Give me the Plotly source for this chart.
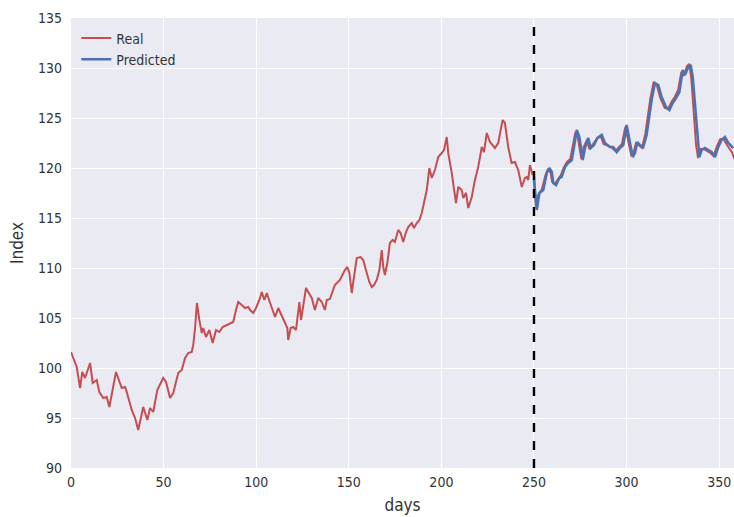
import plotly.graph_objects as go

# Real index values (days, value)
real_days = [0, 3.1, 4.9, 6.1, 7.6, 10.3, 11.7, 13.9, 15.3, 17.4, 19.3, 20.7, 24.3, 27.4, 29.2, 30.1,
             32.8, 34.6, 36.3, 39.0, 41.2, 42.7, 44.4, 46.6, 49.8, 51.3, 53.5, 55.2, 57.9, 59.8,
             61.6, 63.3, 65.2, 66.0, 67.0, 68.0, 69.3, 70.6, 71.4, 72.9, 74.7, 76.5, 78.3, 80.1,
             81.9, 84.1, 85.9, 87.6, 89.1, 90.3, 92.2, 94.0, 95.7, 96.7, 98.4, 99.9, 102.1, 103.0,
             104.4, 105.7, 107.5, 110.2, 111.9, 113.8, 115.6, 116.8, 117.3, 118.6, 120.0, 121.5,
             123.3, 124.2, 125.4, 126.9, 128.1, 130.0, 131.7, 133.5, 135.4, 137.1, 138.1, 139.8,
             142.5, 145.2, 147.9, 149.2, 150.3, 151.6, 152.8, 154.3, 156.4, 157.8, 159.7, 161.1,
             162.4, 163.6, 165.1, 166.5, 167.8, 168.6, 169.5, 170.8, 172.2, 173.7, 174.9, 176.7,
             178.0, 179.4, 180.9, 182.1, 184.0, 185.2, 186.7, 188.1, 189.4, 190.2, 191.1, 192.1,
             193.5, 194.8, 196.5, 198.3, 200.2, 201.4, 202.9, 203.7, 205.6, 207.9, 209.1, 211.0,
             211.8, 213.3, 214.5, 216.4, 218.1, 219.9, 221.8, 223.0, 224.5, 226.2, 228.9, 230.7,
             232.0, 233.1, 234.3, 236.1, 237.9, 239.7, 241.5, 243.4, 245.1, 246.1, 246.9, 247.8,
             249.3, 250.0,
             251.0, 252.3, 254.3, 256.2, 257.6, 259.0, 259.8, 261.3, 263.0, 264.3, 266.0, 267.8,
             269.6, 270.9, 272.4, 273.8, 275.6, 276.8, 278.6, 279.9, 281.7, 283.5, 285.9, 287.6,
             290.3, 292.1, 294.0, 295.7, 297.5, 299.3, 300.8, 302.6, 303.8, 305.1, 306.5, 308.3,
             310.1, 311.0, 312.8, 314.6, 316.4, 318.2, 320.6, 322.4, 324.2, 326.0, 327.8, 329.6,
             330.8, 332.6, 333.9, 335.0, 336.2, 337.5, 338.6, 339.8, 341.6, 343.4, 345.2, 347.0,
             348.8, 350.6, 352.4, 354.2, 356.8, 358.5]
real_vals = [101.6, 100.1, 98.0, 99.6, 99.0, 100.5, 98.5, 98.8, 97.6, 97.0, 97.1, 96.1, 99.6, 98.0, 98.1, 97.6,
             95.8, 95.0, 93.8, 96.1, 94.8, 96.0, 95.6, 97.8, 99.0, 98.6, 97.0, 97.5, 99.5, 99.8,
             101.0, 101.5, 101.6, 102.3, 104.0, 106.5, 104.8, 103.5, 104.0, 103.1, 103.8, 102.5, 103.8, 103.6,
             104.1, 104.3, 104.5, 104.6, 105.8, 106.6, 106.3, 106.0, 106.1, 105.8, 105.5, 106.0, 107.0, 107.6,
             106.8, 107.5, 106.5, 105.1, 106.0, 105.3, 104.5, 104.0, 102.8, 104.0, 104.1, 103.8,
             106.6, 104.8, 106.3, 108.0, 107.6, 107.0, 105.8, 107.0, 106.6, 105.8, 106.8, 106.9,
             108.3, 108.8, 109.8, 110.1, 109.5, 107.5, 109.1, 111.0, 111.1, 110.8, 109.5, 108.6,
             108.1, 108.3, 108.8, 109.8, 111.8, 110.1, 109.3, 110.5, 112.5, 112.8, 112.6, 113.8,
             113.5, 112.6, 113.6, 114.1, 114.5, 114.0, 114.5, 114.8, 115.5, 116.1, 116.8, 117.8,
             120.0, 119.0, 119.8, 121.1, 121.5, 121.8, 123.1, 121.5, 119.5, 116.5, 118.1, 117.8,
             117.0, 117.5, 116.0, 117.1, 118.8, 120.1, 122.1, 121.6, 123.5, 122.6, 122.0, 122.5,
             123.8, 124.8, 124.5, 122.1, 120.5, 120.6, 119.8, 118.1, 119.0, 119.1, 118.8, 120.3,
             119.3, 119.5,
             116.2, 117.3, 117.9, 119.3, 119.9, 119.5, 118.6, 118.4, 118.9, 119.2, 120.0, 120.6,
             120.9, 122.3, 123.6, 122.9, 120.9, 122.1, 122.8, 121.9, 122.4, 122.8, 123.2, 122.4,
             122.2, 122.0, 121.7, 122.0, 122.4, 124.1, 122.6, 121.2, 121.6, 122.5, 122.3, 122.0,
             123.4, 124.7, 126.9, 128.6, 128.2, 127.0, 126.0, 125.9, 126.6, 127.1, 127.8, 129.6,
             129.2, 130.2, 130.4, 128.8, 126.0, 122.3, 121.0, 121.9, 121.9, 121.7, 121.5, 121.2,
             122.2, 122.9, 122.9, 122.3, 121.6, 120.8]

# Predicted index values from day 250 on
pred_days = [250.0, 251.5, 252.9, 255.0, 256.9, 258.3, 259.6, 260.4, 261.9, 263.7, 264.9, 266.7,
             268.5, 270.4, 271.6, 273.1, 274.5, 276.3, 277.5, 279.3, 280.6, 282.4, 284.2, 286.6,
             288.3, 291.0, 292.8, 294.7, 296.4, 298.2, 300.0, 301.5, 303.3, 304.5, 305.8, 307.2,
             309.0, 310.8, 311.7, 313.5, 315.3, 317.1, 318.9, 321.3, 323.1, 324.9, 326.7, 328.5,
             330.3, 331.5, 333.3, 334.6, 335.7, 336.9, 338.2, 339.3, 340.5, 342.3, 344.1, 345.9,
             347.7, 349.5, 351.3, 353.1, 354.9, 357.6]
pred_vals = [118.8, 115.8, 117.5, 117.8, 119.5, 120.0, 119.6, 118.5, 118.3, 119.0, 119.1, 120.1,
             120.5, 120.8, 122.1, 123.8, 123.1, 120.8, 122.0, 123.0, 122.0, 122.3, 123.0, 123.3,
             122.5, 122.1, 122.1, 121.6, 122.0, 122.3, 124.3, 122.8, 121.1, 121.5, 122.6, 122.3,
             122.1, 123.3, 124.6, 126.8, 128.5, 128.3, 127.1, 126.1, 125.8, 126.5, 127.0, 127.6,
             129.8, 129.3, 130.1, 130.3, 129.1, 126.5, 122.8, 121.1, 121.8, 122.0, 121.8, 121.6,
             121.1, 122.1, 122.8, 123.1, 122.5, 122.0]

split_day = 250
x_ticks = [0, 50, 100, 150, 200, 250, 300, 350]
y_ticks = [90, 95, 100, 105, 110, 115, 120, 125, 130, 135]

fig = go.Figure()
fig.add_trace(go.Scatter(x=real_days, y=real_vals, mode="lines", name="Real",
                         line=dict(color="#C44E52", width=2)))
fig.add_trace(go.Scatter(x=pred_days, y=pred_vals, mode="lines", name="Predicted",
                         line=dict(color="#4C72B0", width=2.6)))
fig.add_shape(type="line", xref="x", yref="paper", x0=split_day, x1=split_day, y0=0, y1=1,
              line=dict(color="black", width=2.4, dash="dash"))

font_family = "DejaVu Sans Condensed, Liberation Sans Narrow, Liberation Sans, sans-serif"
fig.update_layout(
    width=734, height=517,
    margin=dict(l=71, r=0, t=18, b=49, autoexpand=False),
    paper_bgcolor="white",
    plot_bgcolor="#EAEAF2",
    font=dict(family=font_family, size=14, color="#333333"),
    showlegend=True,
    legend=dict(x=0.008, y=0.99, xanchor="left", yanchor="top",
                bgcolor="rgba(0,0,0,0)", borderwidth=0,
                font=dict(size=14, color="#333333"), tracegroupgap=0),
    xaxis=dict(range=[0, 358], tickvals=x_ticks, showgrid=True, gridcolor="white", gridwidth=1.3,
               zeroline=False, showline=False, ticks="", automargin=False,
               ticklabelstandoff=4, title=dict(text="days", standoff=10)),
    yaxis=dict(range=[90, 135], tickvals=y_ticks, showgrid=True, gridcolor="white", gridwidth=1.3,
               zeroline=False, showline=False, ticks="", automargin=False,
               ticklabelstandoff=8, title=dict(text="Index", standoff=10)),
)

# remove the page's default body margin so the figure sits at the window's top-left corner
fig.write_html("out.html",
               config={"displayModeBar": False},
               post_script="document.body.style.margin='0';document.body.style.overflow='hidden';")
